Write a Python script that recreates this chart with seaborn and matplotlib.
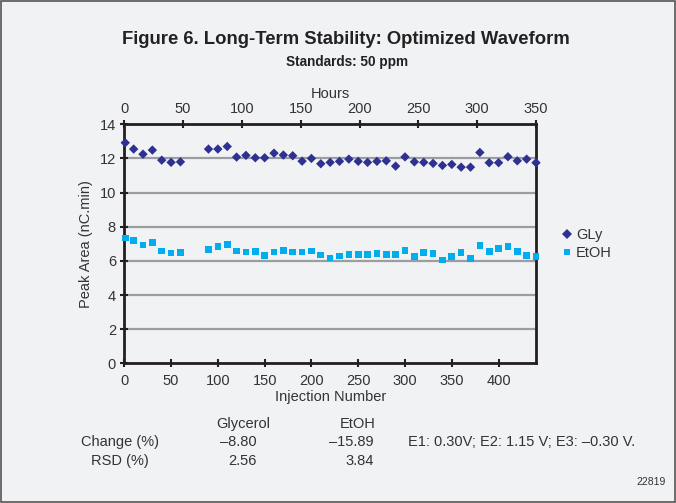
import matplotlib
matplotlib.use("Agg")
import matplotlib.pyplot as plt
import seaborn as sns
import pandas as pd
from matplotlib.patches import Rectangle

# ---- data ----
injections = [1, 10, 20, 30, 40, 50, 60,
              90, 100, 110, 120, 130, 140, 150, 160, 170, 180, 190, 200,
              210, 220, 230, 240, 250, 260, 270, 280, 290, 300, 310, 320,
              330, 340, 350, 360, 370, 380, 390, 400, 410, 420, 430, 440]
gly = [12.92, 12.55, 12.25, 12.49, 11.90, 11.77, 11.80,
       12.55, 12.55, 12.70, 12.08, 12.18, 12.04, 12.04, 12.31, 12.20, 12.16, 11.84, 12.00,
       11.69, 11.77, 11.83, 11.96, 11.83, 11.77, 11.83, 11.86, 11.55, 12.09, 11.80, 11.77,
       11.71, 11.59, 11.65, 11.49, 11.49, 12.35, 11.75, 11.75, 12.10, 11.86, 11.96, 11.75]
etoh = [7.34, 7.18, 6.93, 7.08, 6.58, 6.46, 6.48,
        6.67, 6.83, 6.95, 6.58, 6.52, 6.54, 6.32, 6.52, 6.62, 6.52, 6.52, 6.58,
        6.34, 6.17, 6.28, 6.38, 6.38, 6.38, 6.44, 6.38, 6.38, 6.60, 6.24, 6.48,
        6.44, 6.05, 6.24, 6.48, 6.15, 6.89, 6.54, 6.73, 6.85, 6.54, 6.30, 6.24]
series_names = ["GLy", "EtOH"]
series_colors = ["#2e3192", "#00aeef"]
y_ticks = [0, 2, 4, 6, 8, 10, 12, 14]
inj_ticks = [0, 50, 100, 150, 200, 250, 300, 350, 400]
hour_ticks = [0, 50, 100, 150, 200, 250, 300, 350]
max_inj = 440
max_hours = 350

stat_cols = ["Glycerol", "EtOH"]
change_vals = ["\u20138.80", "\u201315.89"]
rsd_vals = ["2.56", "3.84"]

df = pd.DataFrame({
    "inj": injections * 2,
    "area": gly + etoh,
    "series": [series_names[0]] * len(gly) + [series_names[1]] * len(etoh),
})

# ---- styling ----
bg = "#f1f2f4"
sns.set_theme(style="white")
plt.rcParams["font.family"] = ["Liberation Sans", "DejaVu Sans"]
txt_color = "#333333"
fs = 10.5

fig = plt.figure(figsize=(6.76, 5.03), dpi=100, facecolor=bg)
W, H = 676, 503
def fx(px): return px / W
def fy(py): return 1 - py / H

ax = fig.add_axes([fx(124.3), fy(363.3), fx(536) - fx(124.3), fy(124.3) - fy(363.3)])
ax.set_facecolor(bg)

for yv in y_ticks[1:-1]:
    ax.axhline(yv, color="#9a9ea2", lw=1.6, zorder=0)

sns.scatterplot(data=df, x="inj", y="area", hue="series", style="series",
                hue_order=series_names, style_order=series_names,
                palette=dict(zip(series_names, series_colors)),
                markers={"GLy": "D", "EtOH": "s"}, s=23, linewidth=0,
                ax=ax, zorder=3, clip_on=False)

ax.set_xlim(0, max_inj)
ax.set_ylim(0, 14)
ax.set_yticks(y_ticks)
ax.set_xticks(inj_ticks)
for sp in ax.spines.values():
    sp.set_visible(True)
    sp.set_color("#231f20")
    sp.set_linewidth(2)
ax.tick_params(axis="both", direction="inout", length=6, width=1.5, color="#231f20",
               labelsize=fs, labelcolor=txt_color, pad=3)
ax.tick_params(axis="x", bottom=True, pad=5)
ax.tick_params(axis="y", left=True)
ax.set_xlabel("Injection Number", fontsize=fs, color=txt_color, labelpad=1)
ax.set_ylabel("Peak Area (nC.min)", fontsize=fs, color=txt_color, labelpad=5)

sec = ax.secondary_xaxis("top", functions=(lambda x: x * max_hours / max_inj,
                                           lambda h: h * max_inj / max_hours))
sec.set_xticks(hour_ticks)
sec.tick_params(direction="inout", length=6, width=1.5, color="#231f20",
                labelsize=fs, labelcolor=txt_color, pad=3)
sec.spines["top"].set_visible(False)
sec.set_xlabel("Hours", fontsize=fs, color=txt_color, labelpad=3)

handles, labels = ax.get_legend_handles_labels()
if ax.get_legend() is not None:
    ax.get_legend().remove()
fig.legend(handles, labels, loc="center left", bbox_to_anchor=(fx(552), fy(244)),
           frameon=False, fontsize=fs, handletextpad=0.05, labelspacing=0.3,
           borderaxespad=0, handlelength=1.2, labelcolor=txt_color)

# titles
fig.text(fx(346), fy(40), "Figure 6. Long-Term Stability: Optimized Waveform",
         ha="center", va="center", fontsize=13.3, fontweight="bold", color="#222222")
fig.text(fx(347), fy(62), "Standards: 50 ppm", ha="center", va="center",
         fontsize=9.8, fontweight="bold", color="#222222")

# statistics table
fig.text(fx(243), fy(424), stat_cols[0], ha="center", va="center", fontsize=fs, color=txt_color)
fig.text(fx(358), fy(424), stat_cols[1], ha="center", va="center", fontsize=fs, color=txt_color)
fig.text(fx(120), fy(442), "Change (%)", ha="center", va="center", fontsize=fs, color=txt_color)
fig.text(fx(120), fy(461), "RSD (%)", ha="center", va="center", fontsize=fs, color=txt_color)
fig.text(fx(257), fy(442), change_vals[0], ha="right", va="center", fontsize=fs, color=txt_color)
fig.text(fx(374), fy(442), change_vals[1], ha="right", va="center", fontsize=fs, color=txt_color)
fig.text(fx(257), fy(461), rsd_vals[0], ha="right", va="center", fontsize=fs, color=txt_color)
fig.text(fx(374), fy(461), rsd_vals[1], ha="right", va="center", fontsize=fs, color=txt_color)
fig.text(fx(408), fy(442), "E1: 0.30V; E2: 1.15 V; E3: \u20130.30 V.", ha="left", va="center",
         fontsize=fs, color=txt_color)
fig.text(fx(666), fy(482), "22819", ha="right", va="center", fontsize=7.5, color=txt_color)

fig.patches.append(Rectangle((0.001, 0.001), 0.997, 0.997, transform=fig.transFigure,
                             fill=False, edgecolor="#555555", lw=1.2))

fig.savefig("out.png", dpi=100, facecolor=bg)
